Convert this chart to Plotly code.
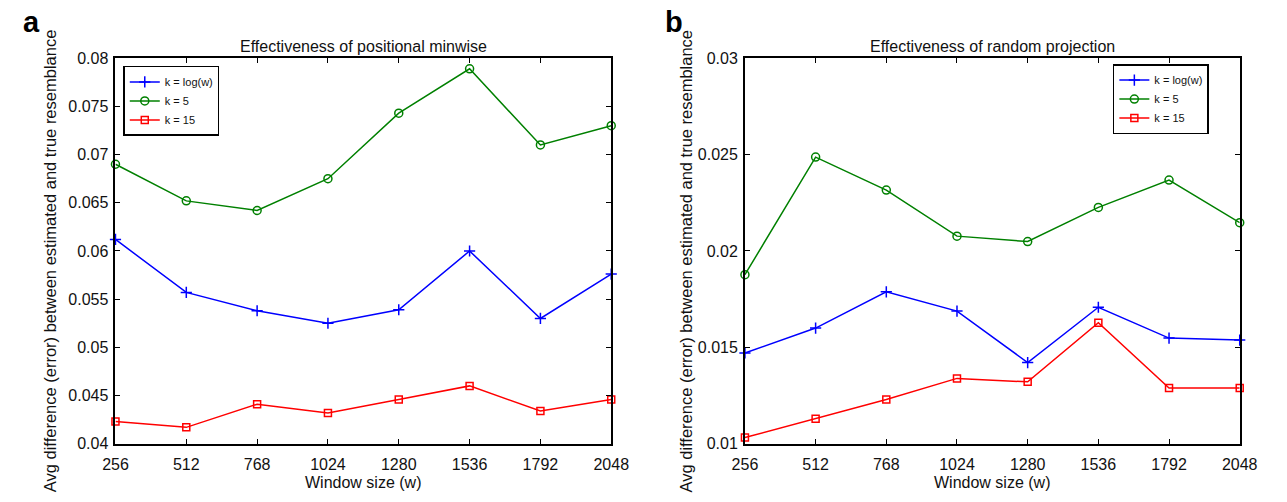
import plotly.graph_objects as go

# ---- data ----
window_sizes = [256, 512, 768, 1024, 1280, 1536, 1792, 2048]
series_names = ["k = log(w)", "k = 5", "k = 15"]

minwise_logw = [0.0612, 0.0557, 0.0538, 0.0525, 0.0539, 0.0600, 0.0530, 0.0576]
minwise_k5 = [0.0690, 0.0652, 0.0642, 0.0675, 0.0743, 0.0789, 0.0710, 0.0730]
minwise_k15 = [0.0423, 0.0417, 0.0441, 0.0432, 0.0446, 0.0460, 0.0434, 0.0446]

randproj_logw = [0.01471, 0.0160, 0.01788, 0.01688, 0.01421, 0.01708, 0.01548, 0.01538]
randproj_k5 = [0.01877, 0.02487, 0.02316, 0.02077, 0.02049, 0.02226, 0.02368, 0.02147]
randproj_k15 = [0.01032, 0.0113, 0.01229, 0.01339, 0.01321, 0.01628, 0.01289, 0.01289]

x_ticks = window_sizes
x_ticklabels = [str(v) for v in window_sizes]
left_yticks = [0.04, 0.045, 0.05, 0.055, 0.06, 0.065, 0.07, 0.075, 0.08]
left_yticklabels = ["0.04", "0.045", "0.05", "0.055", "0.06", "0.065", "0.07", "0.075", "0.08"]
right_yticks = [0.01, 0.015, 0.02, 0.025, 0.03]
right_yticklabels = ["0.01", "0.015", "0.02", "0.025", "0.03"]

titles = ["Effectiveness of positional minwise", "Effectiveness of random projection"]
x_title = "Window size (w)"
y_title = "Avg difference (error) between estimated and true resemblance"
panel_labels = ["a", "b"]

# ---- styles ----
W, H = 1287, 502
FONT = "Liberation Sans, Arial, Helvetica, sans-serif"
colors = ["#0000ff", "#008000", "#ff0000"]
symbols = ["cross-thin-open", "circle-open", "square-open"]
msizes = [8, 8, 7]

fig = go.Figure()

left = [minwise_logw, minwise_k5, minwise_k15]
right = [randproj_logw, randproj_k5, randproj_k15]

for i, (name, ys) in enumerate(zip(series_names, left)):
    fig.add_trace(go.Scatter(
        x=window_sizes, y=ys, name=name, mode="lines+markers",
        line=dict(color=colors[i], width=1.5),
        marker=dict(symbol=symbols[i], size=msizes[i], color=colors[i],
                    line=dict(color=colors[i], width=1.5)),
        xaxis="x", yaxis="y", legend="legend", cliponaxis=False))

for i, (name, ys) in enumerate(zip(series_names, right)):
    fig.add_trace(go.Scatter(
        x=window_sizes, y=ys, name=name, mode="lines+markers",
        line=dict(color=colors[i], width=1.5),
        marker=dict(symbol=symbols[i], size=msizes[i], color=colors[i],
                    line=dict(color=colors[i], width=1.5)),
        xaxis="x2", yaxis="y2", legend="legend2", cliponaxis=False))

def px_x(p):
    return p / W

def px_y(p):
    return 1 - p / H

xl0, xl1 = 105, 613
xr0, xr1 = 750, 1257
yt, yb = 52, 451

axis_common = dict(
    showgrid=False, zeroline=False, showline=True, linecolor="black", linewidth=1.8,
    mirror="ticks", ticks="inside", ticklen=5, tickwidth=1.2, tickcolor="black",
    tickfont=dict(family=FONT, size=16, color="#111"),
)

fig.update_layout(
    width=W, height=H,
    margin=dict(l=0, r=0, t=0, b=0),
    paper_bgcolor="white", plot_bgcolor="white",
    font=dict(family=FONT, color="#111"),
    xaxis=dict(domain=[px_x(xl0), px_x(xl1)], range=[256, 2048], anchor="y",
               tickvals=x_ticks, ticktext=x_ticklabels, ticklabelstandoff=5, **axis_common),
    yaxis=dict(domain=[px_y(yb), px_y(yt)], range=[0.04, 0.08], anchor="x",
               tickvals=left_yticks, ticktext=left_yticklabels, ticklabelstandoff=2, **axis_common),
    xaxis2=dict(domain=[px_x(xr0), px_x(xr1)], range=[256, 2048], anchor="y2",
                tickvals=x_ticks, ticktext=x_ticklabels, ticklabelstandoff=5, **axis_common),
    yaxis2=dict(domain=[px_y(yb), px_y(yt)], range=[0.01, 0.03], anchor="x2",
                tickvals=right_yticks, ticktext=right_yticklabels, ticklabelstandoff=2, **axis_common),
    legend=dict(x=px_x(113), y=px_y(60), xanchor="left", yanchor="top",
                bgcolor="white", bordercolor="black", borderwidth=1.5,
                font=dict(family=FONT, size=11, color="#111"),
                tracegroupgap=0, itemwidth=30),
    legend2=dict(x=px_x(1127), y=px_y(58), xanchor="left", yanchor="top",
                 bgcolor="white", bordercolor="black", borderwidth=1.5,
                 font=dict(family=FONT, size=11, color="#111"),
                 tracegroupgap=0, itemwidth=30),
    showlegend=True,
)

annos = []
for cx, t in zip([(xl0 + xl1) / 2, (xr0 + xr1) / 2], titles):
    annos.append(dict(text=t, x=px_x(cx), y=px_y(40), xref="paper", yref="paper",
                      showarrow=False, xanchor="center", yanchor="middle",
                      font=dict(family=FONT, size=16, color="#111")))
    annos.append(dict(text=x_title, x=px_x(cx), y=px_y(491), xref="paper", yref="paper",
                      showarrow=False, xanchor="center", yanchor="middle",
                      font=dict(family=FONT, size=16, color="#111")))
for cx in [38, 690]:
    annos.append(dict(text=y_title, x=px_x(cx), y=px_y(262), xref="paper", yref="paper",
                      showarrow=False, xanchor="center", yanchor="middle", textangle=-90,
                      font=dict(family=FONT, size=16.5, color="#111")))
for (lx, ly), lab in zip([(19, 15), (677, 15)], panel_labels):
    annos.append(dict(text="<b>" + lab + "</b>", x=px_x(lx), y=px_y(ly), xref="paper", yref="paper",
                      showarrow=False, xanchor="center", yanchor="middle",
                      font=dict(family=FONT, size=29, color="black")))
fig.update_layout(annotations=annos)

fig.write_html("out.html")
